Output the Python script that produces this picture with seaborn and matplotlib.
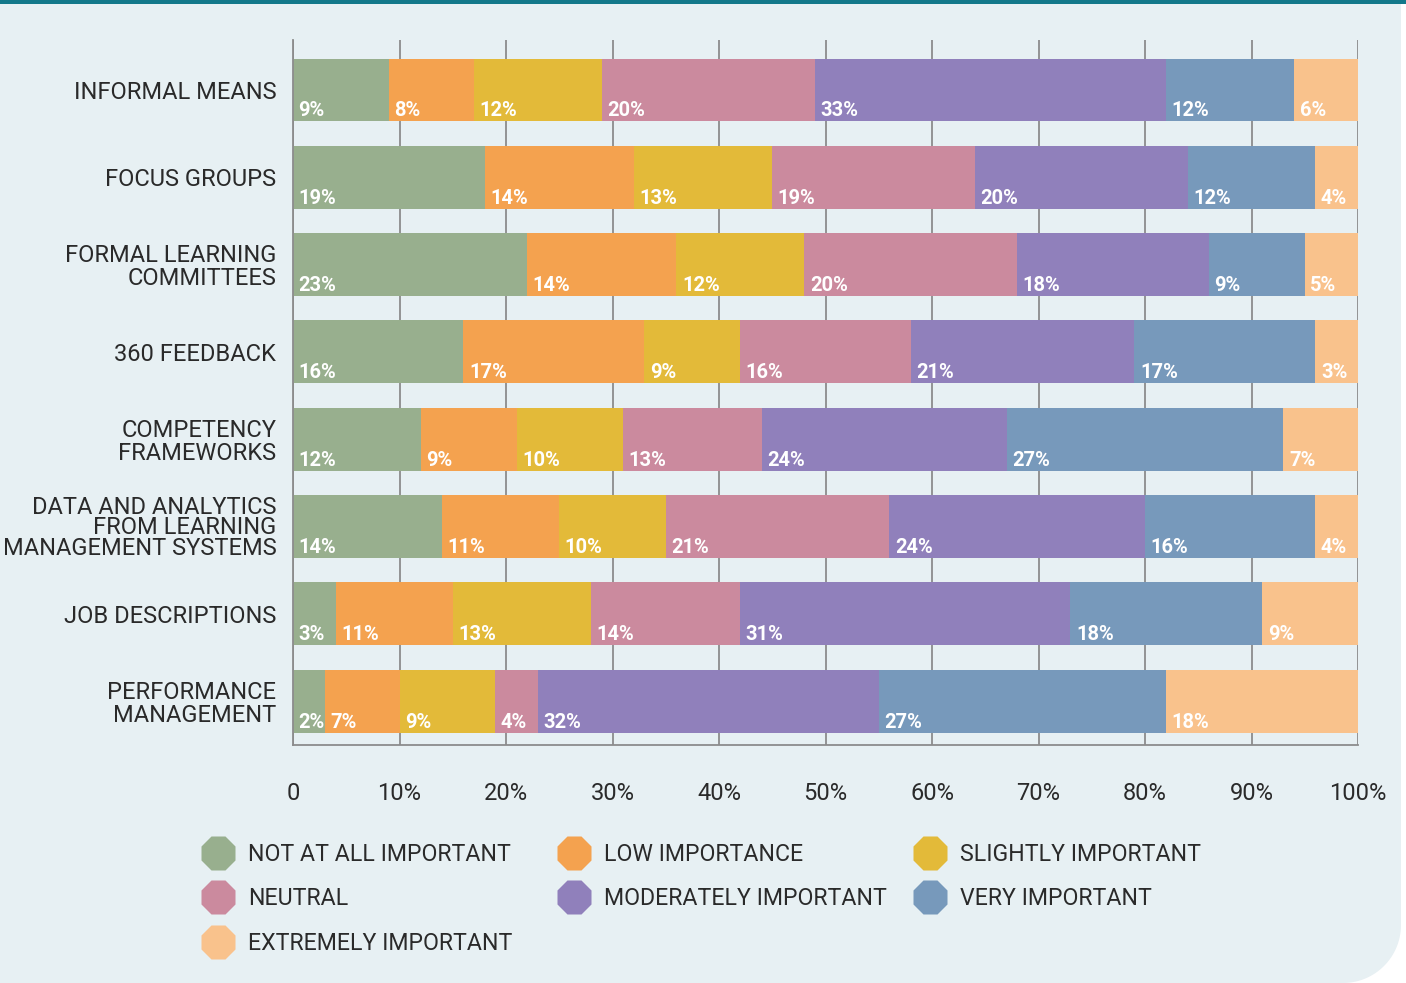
import numpy as np
import pandas as pd
import matplotlib
matplotlib.use("Agg")
import matplotlib.pyplot as plt
from matplotlib.lines import Line2D
from matplotlib.patches import Polygon, Rectangle
import seaborn as sns

categories = ["INFORMAL MEANS", "FOCUS GROUPS", "FORMAL LEARNING\nCOMMITTEES",
              "360 FEEDBACK", "COMPETENCY\nFRAMEWORKS",
              "DATA AND ANALYTICS\nFROM LEARNING\nMANAGEMENT SYSTEMS",
              "JOB DESCRIPTIONS", "PERFORMANCE\nMANAGEMENT"]
series = ["NOT AT ALL IMPORTANT", "LOW IMPORTANCE", "SLIGHTLY IMPORTANT", "NEUTRAL",
          "MODERATELY IMPORTANT", "VERY IMPORTANT", "EXTREMELY IMPORTANT"]
colors = ["#98AF8E", "#F4A24F", "#E3BA39", "#CB8A9E", "#9080BB", "#7799BB", "#F9C28C"]

# segment widths (percent) as drawn
not_at_all = [9, 18, 22, 16, 12, 14, 4, 3]
low = [8, 14, 14, 17, 9, 11, 11, 7]
slightly = [12, 13, 12, 9, 10, 10, 13, 9]
neutral = [20, 19, 20, 16, 13, 21, 14, 4]
moderately = [33, 20, 18, 21, 23, 24, 31, 32]
very = [12, 12, 9, 17, 26, 16, 18, 27]
extremely = [6, 4, 5, 4, 7, 4, 9, 18]

# printed labels
lbl_not_at_all = [9, 19, 23, 16, 12, 14, 3, 2]
lbl_low = [8, 14, 14, 17, 9, 11, 11, 7]
lbl_slightly = [12, 13, 12, 9, 10, 10, 13, 9]
lbl_neutral = [20, 19, 20, 16, 13, 21, 14, 4]
lbl_moderately = [33, 20, 18, 21, 24, 24, 31, 32]
lbl_very = [12, 12, 9, 17, 27, 16, 18, 27]
lbl_extremely = [6, 4, 5, 3, 7, 4, 9, 18]

xticks = [0, 10, 20, 30, 40, 50, 60, 70, 80, 90, 100]
xticklabels = ["0", "10%", "20%", "30%", "40%", "50%", "60%", "70%", "80%", "90%", "100%"]

values = [not_at_all, low, slightly, neutral, moderately, very, extremely]
labels = [lbl_not_at_all, lbl_low, lbl_slightly, lbl_neutral, lbl_moderately, lbl_very, lbl_extremely]

sns.set_theme(style="white")
plt.rcParams["font.family"] = ["Roboto", "DejaVu Sans"]

BG = "#E7F0F3"
TEXT = "#2a2a2a"
GRID = "#8c8c8c"

W, H = 1406, 983
fig = plt.figure(figsize=(W / 100, H / 100), dpi=100, facecolor="white")

# background panel with rounded bottom-right corner
r = 58
t = np.linspace(0, np.pi / 2, 30)
pw = 1401
arc = np.column_stack([pw - r + r * np.cos(-np.pi / 2 + t), r + r * np.sin(-np.pi / 2 + t)])
verts = np.vstack([[[0, 0]], arc, [[pw, H], [0, H]]])
verts = verts / np.array([W, H])
fig.patches.append(Polygon(verts, closed=True, transform=fig.transFigure,
                           facecolor=BG, edgecolor="none", zorder=-10))
fig.patches.append(Rectangle((0, 1 - 4 / H), 1, 4 / H, transform=fig.transFigure,
                             facecolor="#13788A", edgecolor="none", zorder=-9))

ax = fig.add_axes([293 / W, 1 - 745 / H, (1358 - 293) / W, (745 - 40) / H])
ax.set_facecolor("none")

cum = np.cumsum(np.array(values, dtype=float), axis=0)
df = pd.DataFrame({"category": categories})
for k in range(len(series) - 1, -1, -1):
    df["cum"] = cum[k]
    sns.barplot(data=df, x="cum", y="category", orient="h", color=colors[k],
                saturation=1, width=0.72, errorbar=None, ax=ax, zorder=2,
                linewidth=0)

lefts = np.vstack([np.zeros(len(categories)), cum[:-1]])
for k in range(len(series)):
    for i in range(len(categories)):
        ax.annotate(f"{labels[k][i]}%", xy=(lefts[k][i], i + 0.36), xytext=(4, 3.6),
                    textcoords="offset points", ha="left", va="baseline",
                    color="white", fontsize=14.5, fontweight="bold", zorder=4)

ax.set_xlim(0, 100)
ax.set_ylim(7.503, -0.573)
ax.set_xticks(xticks)
ax.set_xticklabels(xticklabels)
ax.set_xlabel("")
ax.set_ylabel("")
for x in xticks:
    ax.axvline(x, color=GRID, lw=1.3, zorder=1)
for s in ["top", "right"]:
    ax.spines[s].set_visible(False)
for s in ["left", "bottom"]:
    ax.spines[s].set_color(GRID)
    ax.spines[s].set_linewidth(1.3)
ax.tick_params(axis="x", length=0, pad=27, labelsize=17, labelcolor=TEXT)
ax.tick_params(axis="y", length=0, pad=12, labelsize=17, labelcolor=TEXT)
for tl in ax.get_yticklabels():
    n = tl.get_text().count("\n")
    tl.set_linespacing(0.88 if n >= 2 else 1.0)
    tl.set_multialignment("right")

# legend: row-major, three fixed columns
handles = [Line2D([0], [0], marker="8", linestyle="none", markersize=27,
                  markerfacecolor=c, markeredgecolor="none") for c in colors]
col_x = [201, 557, 913]
for c in range(3):
    idx = list(range(c, len(series), 3))
    leg = fig.legend([handles[j] for j in idx], [series[j] for j in idx],
                     loc="upper left", bbox_to_anchor=(col_x[c] / W, 1 - 843 / H),
                     ncol=1, frameon=False, fontsize=16.7, labelcolor=TEXT,
                     handlelength=1.48, handletextpad=0.56, labelspacing=0.92,
                     borderpad=0, borderaxespad=0)

fig.savefig("out.png", dpi=100, facecolor="white")
